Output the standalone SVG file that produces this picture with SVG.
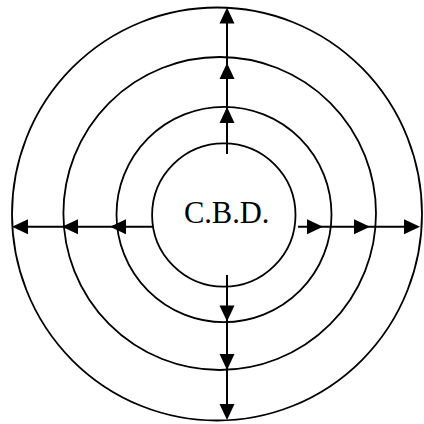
<svg xmlns="http://www.w3.org/2000/svg" xmlns:xlink="http://www.w3.org/1999/xlink" width="424" height="424" viewBox="0 0 424 424">
<style>
.ring{fill:none;stroke:#000;stroke-width:1.8}
.ln{stroke:#000;stroke-width:2;fill:none}
.hd{fill:#000}
.lbl{font-family:"Liberation Serif","Times New Roman",serif;font-size:30.5px;fill:#000}
</style>
<defs>
<path id="ah" class="hd" d="M0,0 L-7.5,16 L7.5,16 Z"/>
</defs>
<rect width="424" height="424" fill="#fff"/>
<g id="zone4"><ellipse class="ring" cx="217" cy="214" rx="205" ry="206.5"/></g>
<g id="zone3"><ellipse class="ring" cx="219.7" cy="213.5" rx="156.3" ry="156.5"/></g>
<g id="zone2"><ellipse class="ring" cx="224" cy="214.5" rx="107.5" ry="107.7"/></g>
<g id="cbd"><ellipse class="ring" cx="223.8" cy="215" rx="71.7" ry="71.7"/>
<text class="lbl" x="226.7" y="223.3" text-anchor="middle">C.B.D.</text></g>
<g id="connectors">
<line class="ln" x1="227" y1="154" x2="227" y2="12"/>
<line class="ln" x1="227" y1="275" x2="227" y2="416"/>
<line class="ln" x1="153" y1="226.7" x2="16" y2="226.7"/>
<line class="ln" x1="298" y1="226.7" x2="416" y2="226.7"/>
<use xlink:href="#ah" transform="translate(227,7.5)"/>
<use xlink:href="#ah" transform="translate(227,63)"/>
<use xlink:href="#ah" transform="translate(227,107)"/>
<use xlink:href="#ah" transform="translate(227,321.5) rotate(180)"/>
<use xlink:href="#ah" transform="translate(227,370) rotate(180)"/>
<use xlink:href="#ah" transform="translate(227,420) rotate(180)"/>
<use xlink:href="#ah" transform="translate(12,226.7) rotate(-90)"/>
<use xlink:href="#ah" transform="translate(62,226.7) rotate(-90)"/>
<use xlink:href="#ah" transform="translate(110,226.7) rotate(-90)"/>
<use xlink:href="#ah" transform="translate(323,226.7) rotate(90)"/>
<use xlink:href="#ah" transform="translate(370,226.7) rotate(90)"/>
<use xlink:href="#ah" transform="translate(420,226.7) rotate(90)"/>
</g>
</svg>
